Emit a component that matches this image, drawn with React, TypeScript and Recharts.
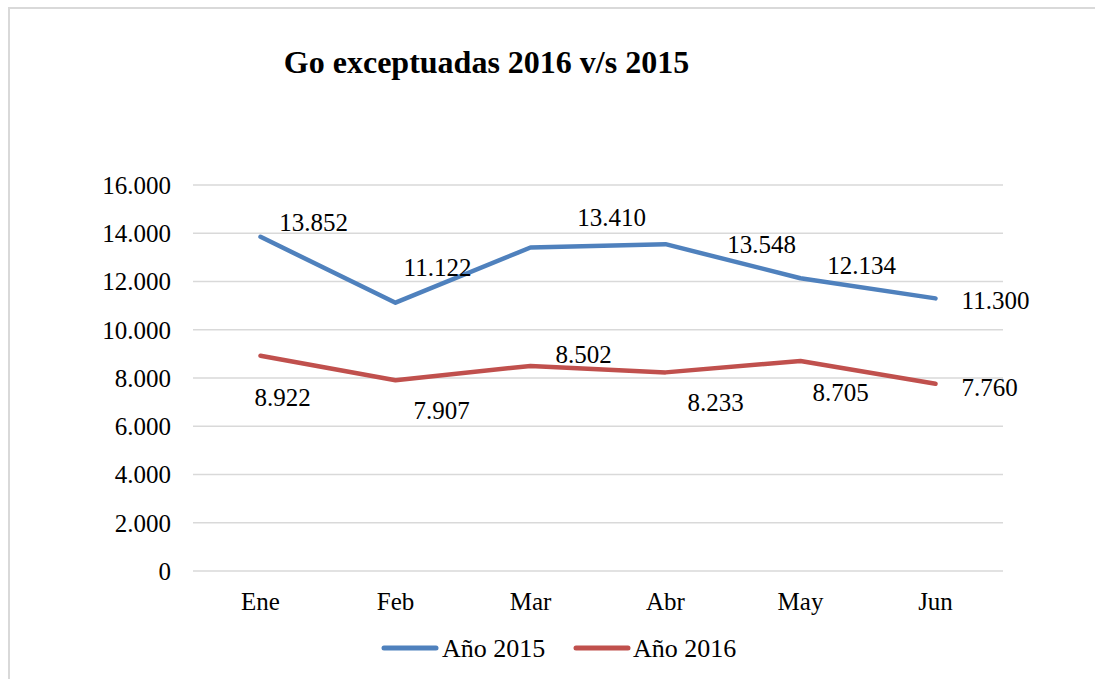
import { LineChart, Line, XAxis, YAxis, CartesianGrid, LabelList } from 'recharts'

const months = ['Ene', 'Feb', 'Mar', 'Abr', 'May', 'Jun']
const ano2015 = [13852, 11122, 13410, 13548, 12134, 11300]
const ano2016 = [8922, 7907, 8502, 8233, 8705, 7760]
const yTicks = [0, 2000, 4000, 6000, 8000, 10000, 12000, 14000, 16000]

// where Excel left each data label, relative to its point
const offsets2015 = [
  [53, -15],
  [42, -35],
  [81, -30],
  [96, 0],
  [61, -13],
  [60, 2],
]
const offsets2016 = [
  [22, 41],
  [46, 30],
  [53, -12],
  [50, 30],
  [40, 31],
  [54, 3],
]

const BLUE = '#4F81BD'
const RED = '#C0504D'
const FONT = "'Liberation Serif', 'Times New Roman', serif"
const textStyle = { fontFamily: FONT, fontSize: 25, fill: '#000' }

const data = months.map((m, i) => ({ month: m, a2015: ano2015[i], a2016: ano2016[i] }))

function fmt(v: number) {
  if (v === 0) return '0'
  const th = Math.floor(v / 1000)
  const rest = String(v % 1000).padStart(3, '0')
  return `${th}.${rest}`
}

function makeLabel(offsets: number[][]) {
  return (props: any) => {
    const { x, y, value, index } = props
    const [dx, dy] = offsets[index] ?? [0, 0]
    return (
      <text x={x + dx} y={y + dy} dy="0.35em" textAnchor="middle" style={textStyle}>
        {fmt(Number(value))}
      </text>
    )
  }
}

function XTick(props: any) {
  const { x, y, payload } = props
  return (
    <text x={x} y={y} dy="0.71em" textAnchor="middle" style={textStyle}>
      {payload.value}
    </text>
  )
}

function YTick(props: any) {
  const { x, y, payload } = props
  return (
    <text x={x} y={y} dy="0.35em" textAnchor="end" style={textStyle}>
      {fmt(payload.value)}
    </text>
  )
}

export default function App() {
  return (
    <div style={{ position: 'absolute', left: 0, top: 0, width: 1095, height: 679, background: '#fff' }}>
      <div
        style={{
          position: 'absolute',
          left: 8,
          top: 7,
          width: 1095,
          height: 679,
          borderLeft: '2px solid #d9d9d9',
          borderTop: '2px solid #d9d9d9',
        }}
      />
      <LineChart
        width={1095}
        height={679}
        data={data}
        margin={{ top: 185, right: 92, bottom: 48, left: 0 }}
        style={{ position: 'absolute', left: 0, top: 0 }}
      >
        <CartesianGrid vertical={false} stroke="#d9d9d9" strokeWidth={1.5} />
        <XAxis
          dataKey="month"
          height={60}
          axisLine={false}
          tickLine={false}
          tickMargin={15}
          padding={{ left: 67.5, right: 67.5 }}
          tick={<XTick />}
        />
        <YAxis
          width={193}
          domain={[0, 16000]}
          ticks={yTicks}
          axisLine={false}
          tickLine={false}
          tickMargin={16}
          tick={<YTick />}
        />
        <Line
          dataKey="a2015"
          stroke={BLUE}
          strokeWidth={4.5}
          strokeLinecap="round"
          strokeLinejoin="round"
          dot={false}
          activeDot={false}
          isAnimationActive={false}
        >
          <LabelList dataKey="a2015" content={makeLabel(offsets2015)} />
        </Line>
        <Line
          dataKey="a2016"
          stroke={RED}
          strokeWidth={4.5}
          strokeLinecap="round"
          strokeLinejoin="round"
          dot={false}
          activeDot={false}
          isAnimationActive={false}
        >
          <LabelList dataKey="a2016" content={makeLabel(offsets2016)} />
        </Line>
      </LineChart>
      <svg
        width={1095}
        height={679}
        style={{ position: 'absolute', left: 0, top: 0, pointerEvents: 'none' }}
      >
        <text x={486.5} y={73} textAnchor="middle" style={{ fontFamily: FONT, fontSize: 32, fontWeight: 'bold' }}>
          Go exceptuadas 2016 v/s 2015
        </text>
        <line x1={384} y1={648} x2={436} y2={648} stroke={BLUE} strokeWidth={5} strokeLinecap="round" />
        <text x={442} y={657} style={{ fontFamily: FONT, fontSize: 26 }}>
          Año 2015
        </text>
        <line x1={576} y1={648} x2={628} y2={648} stroke={RED} strokeWidth={5} strokeLinecap="round" />
        <text x={633} y={657} style={{ fontFamily: FONT, fontSize: 26 }}>
          Año 2016
        </text>
      </svg>
    </div>
  )
}
